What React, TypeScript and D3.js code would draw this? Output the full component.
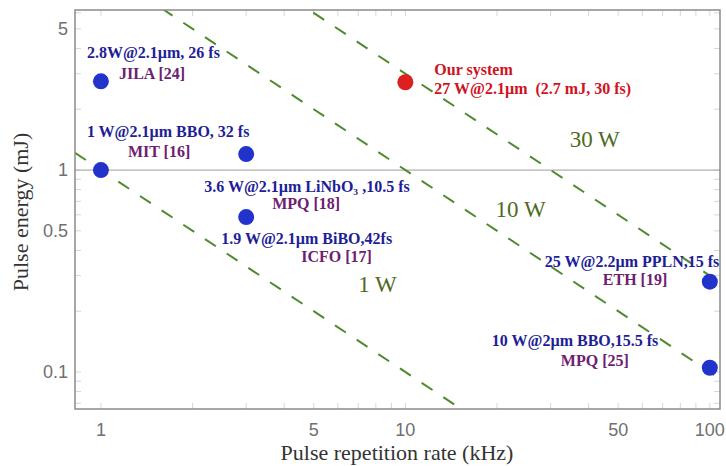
import React from "react";
import * as d3 from "d3";

// reference systems: repetition rate (kHz) and pulse energy (mJ)
const refRate = [1, 1, 3, 3, 100, 100];
const refEnergy = [2.75, 1, 1.2, 0.585, 0.28, 0.105];
const refSpec = [
  "2.8W@2.1µm, 26 fs",
  "1 W@2.1µm BBO, 32 fs",
  "3.6 W@2.1µm LiNbO₃ ,10.5 fs",
  "1.9 W@2.1µm BiBO,42fs",
  "25 W@2.2µm PPLN,15 fs",
  "10 W@2µm BBO,15.5 fs",
];
const refLab = ["JILA [24]", "MIT [16]", "MPQ [18]", "ICFO [17]", "ETH [19]", "MPQ [25]"];

// this work
const ourRate = 10;
const ourEnergy = 2.72;
const ourText = ["Our system", "27 W@2.1µm \u00a0(2.7 mJ, 30 fs)"];

// average power iso-lines (W)
const powers = [1, 10, 30];
const powerText = ["1 W", "10 W", "30 W"];

const xTicks = [1, 5, 10, 50, 100];
const yTicks = [0.1, 0.5, 1, 5];

// label offsets relative to the point [dx1, dy1, dx2, dy2]
const labelOff = [
  [-14, -23, 18, -2],
  [-14, -33, 27, -13],
  [-42, 38, 26, 55],
  [-25, 27, 55, 45],
  [-165, -15, -107, 3],
  [-218, -22, -149, -2],
];
// where the power labels sit (x in kHz, y in mJ)
const powerLabelPos = [
  [8.1, 0.25],
  [23.9, 0.585],
  [41.9, 1.3],
];

const W = 726,
  H = 466;
const L = 75,
  R = 720,
  T = 10,
  B = 409;

export default function App() {
  const x = d3.scaleLog().domain([0.822, 108]).range([L, R]);
  const y = d3.scaleLog().domain([0.0656, 6.2]).range([B, T]);

  const [f0, f1] = x.domain();
  const line = d3
    .line<[number, number]>()
    .x((d) => x(d[0]))
    .y((d) => y(d[1]));

  const serif = "'Liberation Serif', 'Times New Roman', serif";
  const sans = "'Liberation Sans', Arial, sans-serif";

  const minorX: number[] = [];
  for (let dec = 1; dec <= 100; dec *= 10)
    for (let k = 1; k < 10; k++) {
      const v = dec * k;
      if (v >= f0 && v <= f1) minorX.push(v);
    }
  const minorY: number[] = [];
  for (let dec = 0.01; dec <= 1.01; dec *= 10)
    for (let k = 1; k < 10; k++) {
      const v = dec * k;
      if (v >= 0.0656 && v <= 6.2) minorY.push(v);
    }

  return (
    <svg
      width={W}
      height={H}
      style={{ position: "absolute", left: 0, top: 0, background: "#fff" }}
    >
      <defs>
        <clipPath id="plot">
          <rect x={L} y={T} width={R - L} height={B - T} />
        </clipPath>
      </defs>

      {/* faint ticks on all sides */}
      <g stroke="#d6d6d6" strokeWidth={1}>
        {minorX.map((v, i) => (
          <g key={"mx" + i}>
            <line x1={x(v)} x2={x(v)} y1={B} y2={B - 6} />
            <line x1={x(v)} x2={x(v)} y1={T} y2={T + 6} />
          </g>
        ))}
        {minorY.map((v, i) => (
          <g key={"my" + i}>
            <line x1={L} x2={L + 6} y1={y(v)} y2={y(v)} />
            <line x1={R} x2={R - 6} y1={y(v)} y2={y(v)} />
          </g>
        ))}
      </g>

      {/* grid line at 1 mJ */}
      <line x1={L} x2={R} y1={y(1)} y2={y(1)} stroke="#b0b0b0" strokeWidth={1.2} />

      {/* iso-power lines */}
      <g clipPath="url(#plot)">
        {powers.map((p, i) => (
          <path
            key={"p" + i}
            d={line([
              [f0, p / f0],
              [f1, p / f1],
            ]) as string}
            fill="none"
            stroke="#4e8a2e"
            strokeWidth={2}
            strokeDasharray="13 13"
          />
        ))}
      </g>

      {/* frame */}
      <rect x={L} y={T} width={R - L} height={B - T} fill="none" stroke="#8a8a8a" strokeWidth={1.5} />

      {/* tick labels */}
      <g fontFamily={sans} fontSize={18} fill="#707070">
        {xTicks.map((v) => (
          <text key={"xt" + v} x={x(v)} y={436} textAnchor="middle">
            {v}
          </text>
        ))}
        {yTicks.map((v) => (
          <text key={"yt" + v} x={68} y={y(v) + 6} textAnchor="end">
            {v}
          </text>
        ))}
      </g>

      {/* axis titles */}
      <text x={397} y={460} textAnchor="middle" fontFamily={serif} fontSize={22} fill="#333">
        Pulse repetition rate (kHz)
      </text>
      <text
        transform={`translate(28, 212) rotate(-90)`}
        textAnchor="middle"
        fontFamily={serif}
        fontSize={22}
        fill="#333"
      >
        Pulse energy (mJ)
      </text>

      {/* power labels */}
      <g fontFamily={serif} fontSize={23} fill="#4f6a22">
        {powerText.map((t, i) => (
          <text key={"pl" + i} x={x(powerLabelPos[i][0])} y={y(powerLabelPos[i][1])} textAnchor="middle">
            {t}
          </text>
        ))}
      </g>

      {/* reference points */}
      {refRate.map((r, i) => {
        const cx = x(r),
          cy = y(refEnergy[i]);
        const o = labelOff[i];
        return (
          <g key={"r" + i}>
            <circle cx={cx} cy={cy} r={8} fill="#2233cc" />
            <text x={cx + o[0]} y={cy + o[1]} fontFamily={serif} fontWeight="bold" fontSize={16} fill="#1e1e96">
              {refSpec[i]}
            </text>
            <text x={cx + o[2]} y={cy + o[3]} fontFamily={serif} fontWeight="bold" fontSize={16} fill="#6e2070">
              {refLab[i]}
            </text>
          </g>
        );
      })}

      {/* our system */}
      <circle cx={x(ourRate)} cy={y(ourEnergy)} r={8} fill="#dd1f1f" />
      <g fontFamily={serif} fontWeight="bold" fontSize={16} fill="#d0121e">
        <text x={x(ourRate) + 29} y={y(ourEnergy) - 7}>
          {ourText[0]}
        </text>
        <text x={x(ourRate) + 29} y={y(ourEnergy) + 12}>
          {ourText[1]}
        </text>
      </g>
    </svg>
  );
}
